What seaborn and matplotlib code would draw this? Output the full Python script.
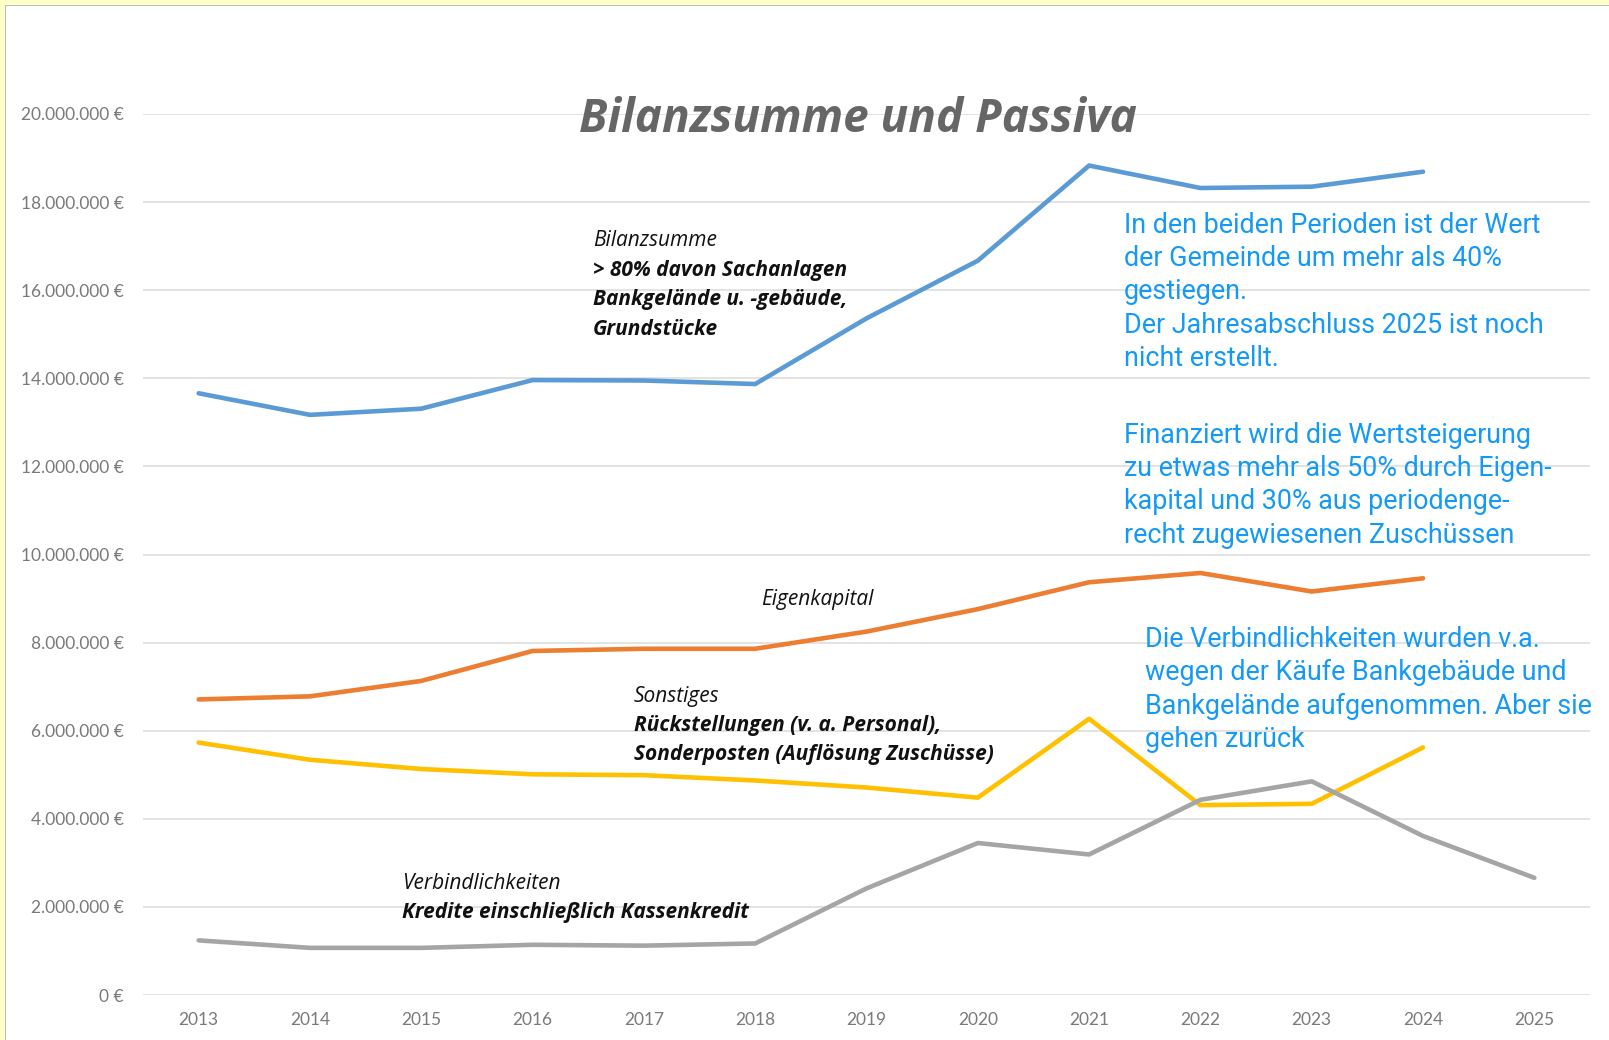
import matplotlib
matplotlib.use("Agg")
import matplotlib.pyplot as plt
from matplotlib.patches import Rectangle
from matplotlib.ticker import FuncFormatter
import numpy as np
import pandas as pd
import seaborn as sns

# data (in euro)
years = [2013, 2014, 2015, 2016, 2017, 2018, 2019, 2020, 2021, 2022, 2023, 2024, 2025]
bilanzsumme = [13.66, 13.17, 13.31, 13.96, 13.95, 13.87, 15.36, 16.67, 18.83, 18.32, 18.35, 18.69, None]
eigenkapital = [6.71, 6.78, 7.13, 7.81, 7.86, 7.86, 8.25, 8.76, 9.37, 9.58, 9.16, 9.46, None]
sonstiges = [5.73, 5.34, 5.13, 5.01, 4.99, 4.87, 4.71, 4.48, 6.27, 4.31, 4.34, 5.62, None]
verbindlichkeiten = [1.24, 1.07, 1.07, 1.14, 1.12, 1.17, 2.42, 3.45, 3.19, 4.43, 4.85, 3.61, 2.66]

series = {
    "Bilanzsumme": bilanzsumme,
    "Eigenkapital": eigenkapital,
    "Sonstiges": sonstiges,
    "Verbindlichkeiten": verbindlichkeiten,
}
colors = {
    "Bilanzsumme": "#5B9BD5",
    "Eigenkapital": "#ED7D31",
    "Sonstiges": "#FFC000",
    "Verbindlichkeiten": "#A5A5A5",
}

rows = []
for name, vals in series.items():
    for y, v in zip(years, vals):
        if v is not None:
            rows.append({"Jahr": y, "Wert": v * 1e6, "Reihe": name})
df = pd.DataFrame(rows)

sns.set_style("white")
plt.rcParams["font.family"] = ["Lato", "DejaVu Sans"]

fig = plt.figure(figsize=(16.09, 10.40), dpi=100)
fig.patch.set_facecolor("white")
ax = fig.add_axes([143 / 1609, 1 - 995 / 1040, (1590 - 143) / 1609, 881 / 1040])

sns.lineplot(data=df, x="Jahr", y="Wert", hue="Reihe", palette=colors,
             linewidth=3.3, legend=False, ax=ax, solid_joinstyle="round")

ax.set_xlim(2012.5, 2025.5)
ax.set_ylim(0, 20e6)
ax.set_yticks(np.arange(0, 20e6 + 1, 2e6))
ax.set_xticks(years)
ax.yaxis.set_major_formatter(FuncFormatter(lambda v, p: f"{int(v):,}".replace(",", ".") + " €"))
ax.grid(axis="y", color="#e3e3e3", linewidth=1.4)
ax.set_axisbelow(True)
for s in ax.spines.values():
    s.set_visible(False)
ax.tick_params(axis="both", length=0, labelsize=12.5, labelcolor="#7a7a7a")
ax.tick_params(axis="y", pad=14)
ax.tick_params(axis="x", pad=12)
ax.set_xlabel("")
ax.set_ylabel("")

# title
ax.text(2018.92, 19.88e6, "Bilanzsumme und Passiva", ha="center", va="center",
        fontsize=33, fontweight="bold", fontstyle="italic", color="#666666",
        family=["Open Sans", "DejaVu Sans"])

# series annotations
def block(x, y0, lines, step, **kw):
    for i, (txt, bold) in enumerate(lines):
        ax.text(x, (y0 - i * step) * 1e6, txt, ha="left", va="center",
                fontweight="bold" if bold else "normal", **kw)

lab = dict(fontsize=15, fontstyle="italic", color="#111111", family=["Open Sans", "DejaVu Sans"])
block(2016.54, 17.12, [("Bilanzsumme", False), ("> 80% davon Sachanlagen", True),
                       ("Bankgelände u. -gebäude,", True), ("Grundstücke", True)], 0.67, **lab)
ax.text(2018.56, 8.97e6, "Eigenkapital", ha="center", va="center", **lab)
block(2016.91, 6.77, [("Sonstiges", False), ("Rückstellungen (v. a. Personal),", True),
                      ("Sonderposten (Auflösung Zuschüsse)", True)], 0.66, **lab)
block(2014.83, 2.54, [("Verbindlichkeiten", False),
                      ("Kredite einschließlich Kassenkredit", True)], 0.66, **lab)

# blue commentary
note = dict(fontsize=19.4, color="#1499F5", family=["Roboto", "DejaVu Sans"])
block(2021.31, 17.48, [("In den beiden Perioden ist der Wert", False),
                       ("der Gemeinde um mehr als 40%", False),
                       ("gestiegen.", False),
                       ("Der Jahresabschluss 2025 ist noch", False),
                       ("nicht erstellt.", False)], 0.758, **note)
block(2021.31, 12.71, [("Finanziert wird die Wertsteigerung", False),
                       ("zu etwas mehr als 50% durch Eigen-", False),
                       ("kapital und 30% aus periodenge-", False),
                       ("recht zugewiesenen Zuschüssen", False)], 0.758, **note)
block(2021.50, 8.07, [("Die Verbindlichkeiten wurden v.a.", False),
                      ("wegen der Käufe Bankgebäude und", False),
                      ("Bankgelände aufgenommen. Aber sie", False),
                      ("gehen zurück", False)], 0.758, **note)

# pale yellow frame at top and left
fig.add_artist(Rectangle((0, 1 - 5 / 1040), 1, 5 / 1040, transform=fig.transFigure,
                         facecolor="#FFFFC8", edgecolor="none"))
fig.add_artist(Rectangle((0, 0), 5 / 1609, 1, transform=fig.transFigure,
                         facecolor="#FFFFC8", edgecolor="none"))
fig.add_artist(Rectangle((5 / 1609, 1 - 6 / 1040), 1, 1 / 1040, transform=fig.transFigure,
                         facecolor="#BDBDBD", edgecolor="none"))
fig.add_artist(Rectangle((5 / 1609, 0), 1 / 1609, 1 - 5 / 1040, transform=fig.transFigure,
                         facecolor="#BDBDBD", edgecolor="none"))

fig.savefig("out.png", dpi=100)
